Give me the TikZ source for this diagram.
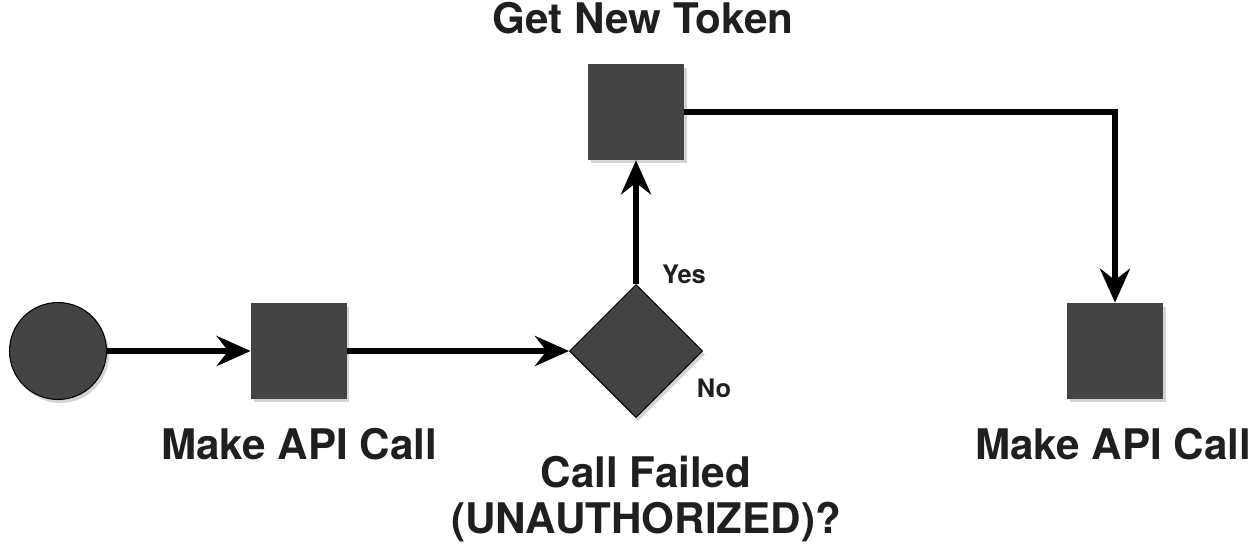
\documentclass[tikz,border=0pt]{standalone}
\usepackage{fontspec}
\setmainfont{TeX Gyre Heros}
\usetikzlibrary{arrows.meta,shapes.geometric,shadows}

\definecolor{boxgray}{HTML}{444444}

\tikzset{
	shade box/.style={drop shadow={shadow xshift=0.05cm, shadow yshift=-0.07cm, opacity=0.35}},
	stepbox/.style={rectangle, fill=boxgray, minimum size=1.92cm, inner sep=0pt, shade box},
	startdot/.style={circle, fill=boxgray, draw=black, line width=0.6pt, minimum size=1.94cm, inner sep=0pt, shade box},
	choice/.style={diamond, fill=boxgray, draw=black, line width=0.6pt, minimum width=2.66cm, minimum height=2.66cm, aspect=1, inner sep=0pt, shade box},
	biglabel/.style={font=\fontsize{24}{26}\selectfont\bfseries, text=black!88, align=center},
	smalllabel/.style={font=\fontsize{14.5}{16}\selectfont\bfseries, text=black!88},
	flow/.style={line width=3.3pt, -{Stealth[length=0.68cm, width=0.6cm, inset=0.23cm]}},
}

\begin{document}
\begin{tikzpicture}[x=0.02cm, y=-0.02cm]
		%%%%% START %%%%%
		\useasboundingbox (0, 0) rectangle (1253, 548);
		
		\node[startdot] (start) at (58, 351) {};
		\node[stepbox] (call1) at (299, 351) {};
		\node[choice] (fail) at (636, 351) {};
		\node[stepbox] (token) at (636, 112) {};
		\node[stepbox] (call2) at (1115, 351) {};
		
		\node[biglabel] (call1txt) at (299, 444) {Make API Call};
		\node[biglabel] (failtxt) at (646, 499) {Call Failed\\(UNAUTHORIZED)?};
		\node[biglabel] (tokentxt) at (643, 18) {Get New Token};
		\node[biglabel] (call2txt) at (1113, 444) {Make API Call};
		
		\node[smalllabel] (yes) at (684, 274) {Yes};
		\node[smalllabel] (no) at (714, 388) {No};
		
		\draw[flow] (start) -- (call1);
		\draw[flow] (call1) -- (fail);
		\draw[flow] (fail.north) -- (token.south);
		\draw[flow] (token.east) -| (call2.north);
		
		%%%%% END %%%%%
	\end{tikzpicture}
\end{document}
